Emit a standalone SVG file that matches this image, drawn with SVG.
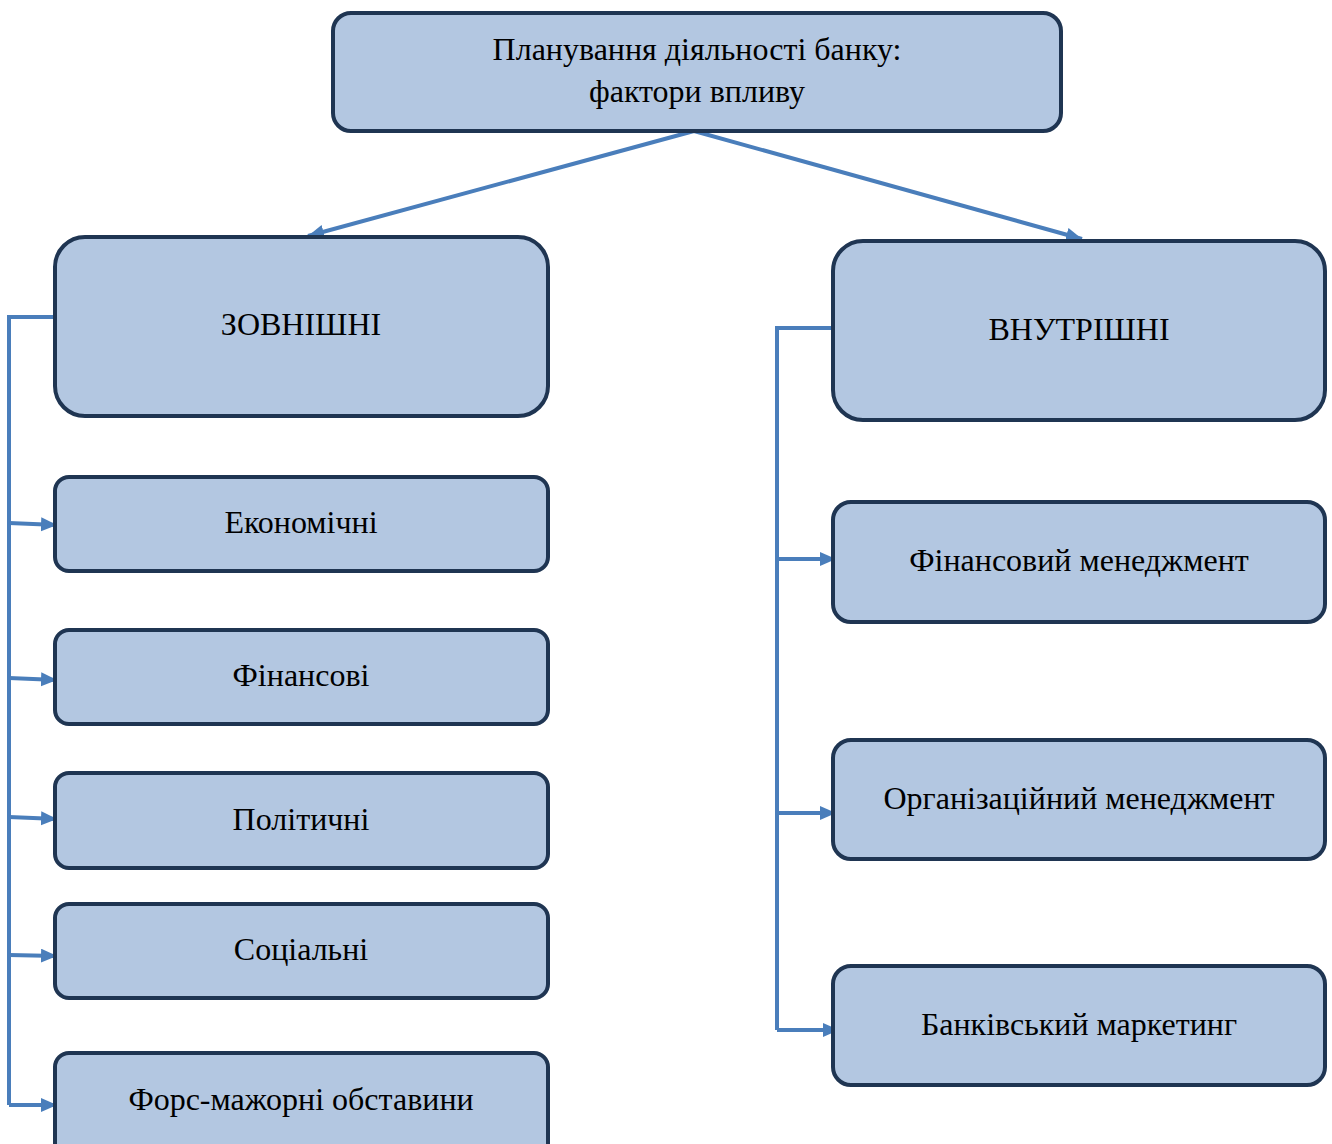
<svg xmlns="http://www.w3.org/2000/svg" width="1332" height="1144" viewBox="0 0 1332 1144">
<defs>
<marker id="ah" markerUnits="userSpaceOnUse" markerWidth="18" markerHeight="16" refX="16" refY="7" orient="auto">
<path d="M0,0 L16,7 L0,14 z" fill="#4a7ebb"/>
</marker>
<style>
.box{fill:#b3c7e1;stroke:#1f3552;stroke-width:4}
.t{font-family:"Liberation Serif","Times New Roman",serif;font-size:32px;fill:#000;text-anchor:middle}
.c{fill:none;stroke:#4a7ebb;stroke-width:4}
.ca{fill:none;stroke:#4a7ebb;stroke-width:4;marker-end:url(#ah)}
</style>
</defs>
<rect width="1332" height="1144" fill="#fff"/>
<g id="connectors">
<line class="ca" x1="694" y1="131" x2="308" y2="236"/>
<line class="ca" x1="694" y1="131" x2="1082" y2="239"/>
<polyline class="c" points="55,317 9,317 9,1105"/>
<line class="ca" x1="9" y1="523" x2="57" y2="525"/>
<line class="ca" x1="9" y1="678" x2="57" y2="680"/>
<line class="ca" x1="9" y1="817" x2="57" y2="819"/>
<line class="ca" x1="9" y1="955" x2="57" y2="956"/>
<line class="ca" x1="9" y1="1105" x2="57" y2="1105"/>
<polyline class="c" points="833,328 777,328 777,1030"/>
<line class="ca" x1="777" y1="559" x2="836" y2="559"/>
<line class="ca" x1="777" y1="813" x2="836" y2="813"/>
<line class="ca" x1="777" y1="1030" x2="839" y2="1030"/>
</g>
<g id="n-root"><rect class="box" x="333" y="13" width="728" height="118" rx="18"/>
<text class="t" x="697" y="60">Планування діяльності банку:</text>
<text class="t" x="697" y="102">фактори впливу</text></g>
<g id="n-ext"><rect class="box" x="55" y="237" width="493" height="179" rx="30"/>
<text class="t" x="301" y="335">ЗОВНІШНІ</text></g>
<g id="n-int"><rect class="box" x="833" y="241" width="492" height="179" rx="30"/>
<text class="t" x="1079" y="340">ВНУТРІШНІ</text></g>
<g id="n-econ"><rect class="box" x="55" y="477" width="493" height="94" rx="14"/>
<text class="t" x="301" y="533">Економічні</text></g>
<g id="n-fin"><rect class="box" x="55" y="630" width="493" height="94" rx="14"/>
<text class="t" x="301" y="686">Фінансові</text></g>
<g id="n-pol"><rect class="box" x="55" y="773" width="493" height="95" rx="14"/>
<text class="t" x="301" y="830">Політичні</text></g>
<g id="n-soc"><rect class="box" x="55" y="904" width="493" height="94" rx="14"/>
<text class="t" x="301" y="960">Соціальні</text></g>
<g id="n-force"><rect class="box" x="55" y="1053" width="493" height="110" rx="14"/>
<text class="t" x="301" y="1110">Форс-мажорні обставини</text></g>
<g id="n-finman"><rect class="box" x="833" y="502" width="492" height="120" rx="18"/>
<text class="t" x="1079" y="571">Фінансовий менеджмент</text></g>
<g id="n-orgman"><rect class="box" x="833" y="740" width="492" height="119" rx="18"/>
<text class="t" x="1079" y="809">Організаційний менеджмент</text></g>
<g id="n-mkt"><rect class="box" x="833" y="966" width="492" height="119" rx="18"/>
<text class="t" x="1079" y="1035">Банківський маркетинг</text></g>
</svg>
